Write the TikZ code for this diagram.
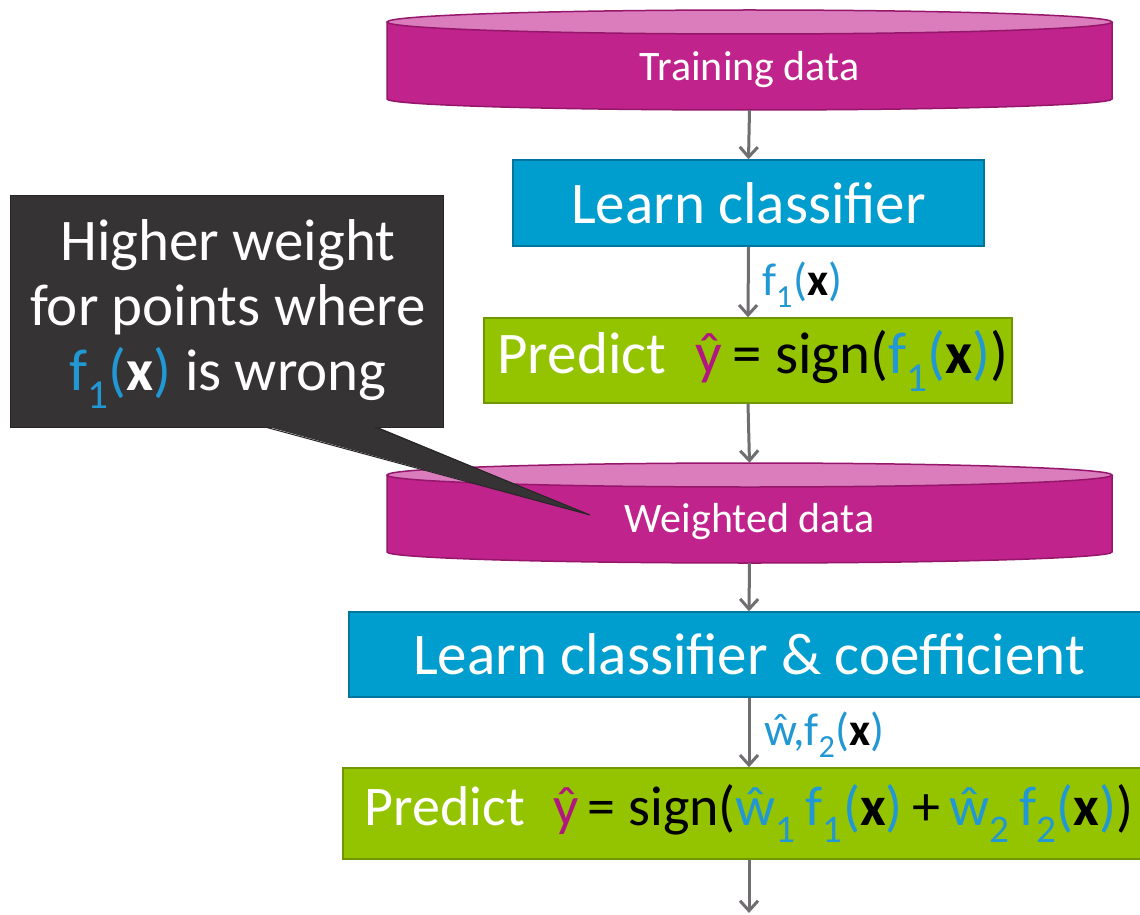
\documentclass[tikz,border=0pt]{standalone}
\usepackage{fontspec}
\setmainfont{Carlito}
\usetikzlibrary{arrows.meta}
\definecolor{mag}{RGB}{192,35,140}
\definecolor{magtop}{RGB}{219,124,188}
\definecolor{magborder}{RGB}{150,22,108}
\definecolor{boxblue}{RGB}{0,158,206}
\definecolor{blueborder}{RGB}{0,118,158}
\definecolor{boxgreen}{RGB}{148,196,0}
\definecolor{greenborder}{RGB}{112,150,0}
\definecolor{calloutbg}{RGB}{54,51,52}
\definecolor{lblue}{RGB}{33,152,212}
\definecolor{yhat}{RGB}{178,22,128}
\definecolor{arrgray}{RGB}{112,110,112}
\newcommand\sbb[1]{\textsubscript{#1}}
\newcommand\fx[2]{\textcolor{lblue}{f\sbb{#1}(}\textcolor{#2}{\textbf{x}}\textcolor{lblue}{)}}
\newcommand\wh[1]{\textcolor{lblue}{ŵ\sbb{#1}}}
\tikzset{
  arr/.style={draw=arrgray, line width=3pt, -{Straight Barb[length=10pt,width=18pt]}},
  stepbox/.style={inner sep=0pt, font=\fontsize{59}{64}\selectfont, text=white, line width=1.5pt},
  learnbox/.style={stepbox, fill=boxblue, draw=blueborder},
  predbox/.style={stepbox, fill=boxgreen, draw=greenborder},
  cylnode/.style={inner sep=0pt, minimum width=725pt, minimum height=100pt},
  cyltext/.style={inner sep=0pt, font=\fontsize{42}{46}\selectfont, text=white},
  edgelabel/.style={inner sep=0pt, anchor=west, font=\fontsize{46}{50}\selectfont},
}
\newcommand\cylinder[3]{% x center, y top-ellipse center, y bottom-ellipse center
  \fill[mag] (#1-362.5,#2) -- (#1-362.5,#3) arc[start angle=180,end angle=360,x radius=362.5,y radius=11]
     -- (#1+362.5,#2) arc[start angle=0,end angle=180,x radius=362.5,y radius=12] -- cycle;
  \fill[magtop] (#1,#2) ellipse[x radius=362.5,y radius=12];
  \draw[magborder,line width=1.5pt] (#1-362.5,#2) -- (#1-362.5,#3) arc[start angle=180,end angle=360,x radius=362.5,y radius=11]
     -- (#1+362.5,#2);
  \draw[magborder,line width=1.5pt] (#1,#2) ellipse[x radius=362.5,y radius=12];
}
\begin{document}
\begin{tikzpicture}[x=1pt,y=1pt]
\clip (0,0) rectangle (1140,-915);
\fill[white] (0,0) rectangle (1140,-915);

% Training data cylinder
\cylinder{749.5}{-22}{-99}
\node[cylnode] (train) at (749.5,-60) {};
\node[cyltext] (traintext) at (749.5,-70) {Training data};

% Learn classifier
\node[learnbox, minimum width=471pt, minimum height=86pt] (learn1) at (748.5,-203) {Learn classifier};

% Predict 1
\node[predbox, minimum width=528pt, minimum height=85pt] (pred1) at (748,-360.5)
  {\hspace{10pt}Predict\hspace{0.5em}\textcolor{yhat}{ŷ}\,\textcolor{black}{= sign(}\fx{1}{black}\textcolor{black}{)}};

% Weighted data cylinder
\cylinder{749.5}{-475}{-552}
\node[cylnode] (weighted) at (749.5,-513) {};
\node[cyltext] (weightedtext) at (749.5,-522) {Weighted data};

% Learn classifier & coefficient
\node[learnbox, minimum width=800pt, minimum height=85pt] (learn2) at (749,-654.5) {Learn classifier \& coefficient};

% Predict 2
\node[predbox, minimum width=812pt, minimum height=91pt, font=\fontsize{56}{60}\selectfont] (pred2) at (749,-813.5)
  {Predict\hspace{0.5em}\textcolor{yhat}{ŷ}\,\textcolor{black}{= sign(}\wh{1}\,\fx{1}{black}\textcolor{black}{\,+\,}\wh{2}\,\fx{2}{black}\textcolor{black}{)}};

\coordinate (out) at (749,-913);

% connectors
\draw[arr] (train.south) -- (learn1.north);
\draw[arr] (learn1.south) -- (pred1.north);
\draw[arr] (pred1.south) -- (weighted.north);
\draw[arr] (weighted.south) -- (learn2.north);
\draw[arr] (learn2.south) -- (pred2.north);
\draw[arr] (pred2.south) -- (out);

% edge labels
\node[edgelabel] (lab1) at (762,-285) {\fx{1}{black}};
\node[edgelabel] (lab2) at (764,-735) {\textcolor{lblue}{ŵ,}\fx{2}{black}};

% callout
\node[fill=calloutbg, draw=black!85, line width=1pt, minimum width=433pt, minimum height=232pt, inner sep=0pt] (callout) at (226.5,-311) {};
\node[text=white, align=center, inner sep=0pt, font=\fontsize{59}{65}\selectfont] (callouttext) at (228,-314)
  {Higher weight\\for points where\\\fx{1}{white} is wrong};
\coordinate (tip) at (590,-515);
\fill[calloutbg] (265,-426) -- (tip) -- (375,-426) -- cycle;
\draw[black!85, line width=1pt] (265,-427) -- (tip) -- (375,-427);
\end{tikzpicture}
\end{document}
